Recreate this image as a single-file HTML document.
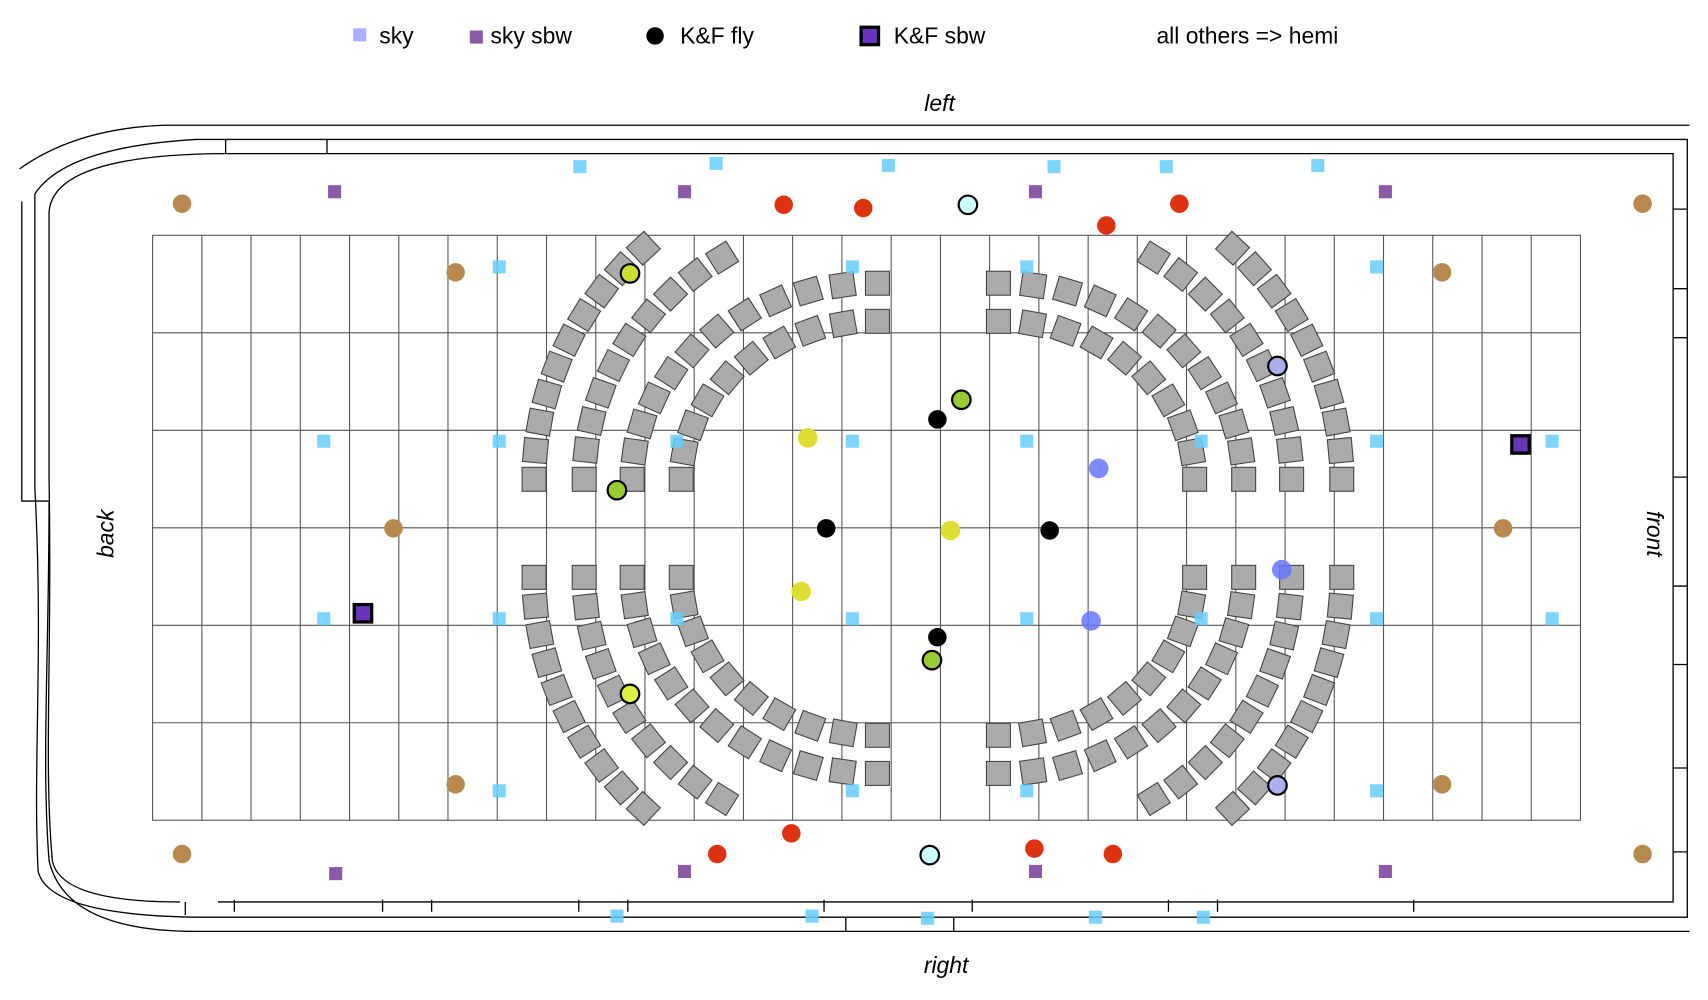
<!DOCTYPE html>
<html><head><meta charset="utf-8"><style>
html,body{margin:0;padding:0;background:#fff;}
svg{display:block;}
text{font-family:"Liberation Sans",sans-serif;}
</style></head><body>
<svg width="1708" height="1000" viewBox="0 0 1567 918" preserveAspectRatio="none" xmlns="http://www.w3.org/2000/svg" xmlns:xlink="http://www.w3.org/1999/xlink">
<defs>
<rect id="s" x="-11" y="-11" width="22" height="22"/>
<g id="q" fill="#aaa" stroke="#444" stroke-width="1">
<use xlink:href="#s" transform="translate(625,440)"/>
<use xlink:href="#s" transform="translate(627.7,414.8) rotate(10)"/>
<use xlink:href="#s" transform="translate(635.8,390.4) rotate(20)"/>
<use xlink:href="#s" transform="translate(649.1,367.5) rotate(30)"/>
<use xlink:href="#s" transform="translate(667.1,346.8) rotate(40)"/>
<use xlink:href="#s" transform="translate(689.3,328.9) rotate(50)"/>
<use xlink:href="#s" transform="translate(715,314.4) rotate(60)"/>
<use xlink:href="#s" transform="translate(743.4,303.7) rotate(70)"/>
<use xlink:href="#s" transform="translate(773.7,297.2) rotate(80)"/>
<use xlink:href="#s" transform="translate(805,295)"/>
<use xlink:href="#s" transform="translate(580,440)"/>
<use xlink:href="#s" transform="translate(582.3,414.4) rotate(8.2)"/>
<use xlink:href="#s" transform="translate(589,389.2) rotate(16.4)"/>
<use xlink:href="#s" transform="translate(600.3,365.3) rotate(24.5)"/>
<use xlink:href="#s" transform="translate(615.8,342.6) rotate(32.7)"/>
<use xlink:href="#s" transform="translate(634.9,322.1) rotate(40.9)"/>
<use xlink:href="#s" transform="translate(657.6,303.9) rotate(49.1)"/>
<use xlink:href="#s" transform="translate(683.3,288.6) rotate(57.3)"/>
<use xlink:href="#s" transform="translate(711.6,276.2) rotate(65.5)"/>
<use xlink:href="#s" transform="translate(741.6,267.2) rotate(73.6)"/>
<use xlink:href="#s" transform="translate(773.1,261.8) rotate(81.8)"/>
<use xlink:href="#s" transform="translate(805,260)"/>
<use xlink:href="#s" transform="translate(536,440)"/>
<use xlink:href="#s" transform="translate(537.7,413.1) rotate(6.4)"/>
<use xlink:href="#s" transform="translate(542.8,386.5) rotate(12.9)"/>
<use xlink:href="#s" transform="translate(551.2,360.6) rotate(19.3)"/>
<use xlink:href="#s" transform="translate(562.8,335.6) rotate(25.8)"/>
<use xlink:href="#s" transform="translate(577.4,312) rotate(32.2)"/>
<use xlink:href="#s" transform="translate(595,290) rotate(38.7)"/>
<use xlink:href="#s" transform="translate(615.2,270) rotate(45.1)"/>
<use xlink:href="#s" transform="translate(637.8,252) rotate(51.6)"/>
<use xlink:href="#s" transform="translate(662.5,236.5) rotate(58)"/>
<use xlink:href="#s" transform="translate(490,440)"/>
<use xlink:href="#s" transform="translate(491.3,413.6) rotate(5.2)"/>
<use xlink:href="#s" transform="translate(495.2,387.5) rotate(10.4)"/>
<use xlink:href="#s" transform="translate(501.7,361.7) rotate(15.7)"/>
<use xlink:href="#s" transform="translate(510.7,336.6) rotate(20.9)"/>
<use xlink:href="#s" transform="translate(522.1,312.3) rotate(26.1)"/>
<use xlink:href="#s" transform="translate(535.9,289.2) rotate(31.3)"/>
<use xlink:href="#s" transform="translate(552,267.3) rotate(36.6)"/>
<use xlink:href="#s" transform="translate(570.1,246.7) rotate(41.8)"/>
<use xlink:href="#s" transform="translate(590.2,227.9) rotate(47)"/>
</g>
</defs>
<!-- legend -->
<rect x="324" y="26" width="12" height="12" fill="#aab0ff"/>
<text x="348" y="40" font-size="21">sky</text>
<rect x="431" y="28" width="12" height="12" fill="#8a5aa8"/>
<text x="450" y="40" font-size="21">sky sbw</text>
<circle cx="601" cy="33" r="8" fill="#000"/>
<text x="624" y="40" font-size="21">K&amp;F fly</text>
<rect x="790" y="25" width="16" height="16" fill="#6a33bb" stroke="#000" stroke-width="3"/>
<text x="820" y="40" font-size="21">K&amp;F sbw</text>
<text x="1061" y="40" font-size="21">all others =&gt; hemi</text>
<text x="862" y="102" font-size="21" font-style="italic" text-anchor="middle">left</text>
<text x="868" y="893" font-size="21" font-style="italic" text-anchor="middle">right</text>
<text transform="translate(104,490) rotate(-90)" font-size="21" font-style="italic" text-anchor="middle">back</text>
<text transform="translate(1511,490) rotate(90)" font-size="21" font-style="italic" text-anchor="middle">front</text>
<!-- walls -->
<g fill="none" stroke="#000" stroke-width="1.2">
<path d="M150 115 L1550 115 M18 155 Q70 118 150 115"/>
<path d="M20 185 L20 460 L45 460 C45 600 38 700 45 790 Q60 855 180 855 L1550 855"/>
<path d="M180 128 L1548 128 L1548 842 L180 842 Q45 840 35 800 C30 700 40 600 32 448 L32 178 Q60 135 180 128"/>
<path d="M200 141 L1535 141 L1535 828 L200 828"/>
<path d="M200 141 Q48 143 45 195 L45 440 C48 600 40 700 48 790 Q55 828 165 828"/>
<path d="M207 128 V141 M300 128 V141 M170 828 V840"/>
<path d="M215 826 V837 M351 826 V837 M396 826 V837 M531 826 V837 M576 826 V837 M756 826 V837 M892 826 V837 M1072 826 V837 M1117 826 V837 M1297 826 V837 M776 842 V855 M875 842 V855"/>
<path d="M1535 192 H1548 M1535 265 H1548 M1535 310 H1548 M1535 438 H1548 M1535 538 H1548 M1535 610 H1548 M1535 705 H1548 M1535 782 H1548"/>
</g>
<!-- grid -->
<g stroke="#555" stroke-width="1" fill="none">
<rect x="140" y="216" width="1310" height="537"/>
<path d="M185.2 216V753M230.3 216V753M275.5 216V753M320.7 216V753M365.9 216V753M411 216V753M456.2 216V753M501.4 216V753M546.6 216V753M591.7 216V753M636.9 216V753M682.1 216V753M727.2 216V753M772.4 216V753M817.6 216V753M862.8 216V753M907.9 216V753M953.1 216V753M998.3 216V753M1043.4 216V753M1088.6 216V753M1133.8 216V753M1179 216V753M1224.1 216V753M1269.3 216V753M1314.5 216V753M1359.7 216V753M1404.8 216V753"/>
<path d="M140 305.5H1450M140 395H1450M140 484.5H1450M140 574H1450M140 663.5H1450"/>
</g>
<!-- seats -->
<use xlink:href="#q"/>
<use xlink:href="#q" transform="matrix(1,0,0,-1,0,970)"/>
<use xlink:href="#q" transform="matrix(-1,0,0,1,1721,0)"/>
<use xlink:href="#q" transform="matrix(-1,0,0,-1,1721,970)"/>
<!-- sky squares -->
<g fill="#66ccff" opacity="0.85">
<rect x="526" y="147" width="12" height="12"/><rect x="651" y="144" width="12" height="12"/><rect x="809" y="146" width="12" height="12"/><rect x="961" y="147" width="12" height="12"/><rect x="1064" y="147" width="12" height="12"/><rect x="1203" y="146" width="12" height="12"/>
<rect x="452" y="239" width="12" height="12"/><rect x="776" y="239" width="12" height="12"/><rect x="936" y="239" width="12" height="12"/><rect x="1257" y="239" width="12" height="12"/>
<rect x="452" y="720" width="12" height="12"/><rect x="776" y="720" width="12" height="12"/><rect x="936" y="720" width="12" height="12"/><rect x="1257" y="720" width="12" height="12"/>
<rect x="560" y="835" width="12" height="12"/><rect x="739" y="835" width="12" height="12"/><rect x="845" y="837" width="12" height="12"/><rect x="999" y="836" width="12" height="12"/><rect x="1098" y="836" width="12" height="12"/>
<rect x="291" y="399" width="12" height="12"/><rect x="452" y="399" width="12" height="12"/><rect x="615" y="399" width="12" height="12"/><rect x="776" y="399" width="12" height="12"/><rect x="936" y="399" width="12" height="12"/><rect x="1096" y="399" width="12" height="12"/><rect x="1257" y="399" width="12" height="12"/><rect x="1418" y="399" width="12" height="12"/>
<rect x="291" y="562" width="12" height="12"/><rect x="452" y="562" width="12" height="12"/><rect x="615" y="562" width="12" height="12"/><rect x="776" y="562" width="12" height="12"/><rect x="936" y="562" width="12" height="12"/><rect x="1096" y="562" width="12" height="12"/><rect x="1257" y="562" width="12" height="12"/><rect x="1418" y="562" width="12" height="12"/>
</g>
<g fill="#8a5aa8">
<rect x="301" y="170" width="12" height="12"/><rect x="622" y="170" width="12" height="12"/><rect x="944" y="170" width="12" height="12"/><rect x="1265" y="170" width="12" height="12"/>
<rect x="302" y="796" width="12" height="12"/><rect x="622" y="794" width="12" height="12"/><rect x="944" y="794" width="12" height="12"/><rect x="1265" y="794" width="12" height="12"/>
</g>
<g fill="#b8894f">
<circle cx="167" cy="187" r="8.5"/><circle cx="1507" cy="187" r="8.5"/><circle cx="418" cy="250" r="8.5"/><circle cx="1323" cy="250" r="8.5"/><circle cx="361" cy="485" r="8.5"/><circle cx="1379" cy="485" r="8.5"/><circle cx="418" cy="720" r="8.5"/><circle cx="1323" cy="720" r="8.5"/><circle cx="167" cy="784" r="8.5"/><circle cx="1507" cy="784" r="8.5"/>
</g>
<g fill="#dd3311">
<circle cx="719" cy="188" r="8.5"/><circle cx="792" cy="191" r="8.5"/><circle cx="1082" cy="187" r="8.5"/><circle cx="1015" cy="207" r="8.5"/><circle cx="658" cy="784" r="8.5"/><circle cx="726" cy="765" r="8.5"/><circle cx="949" cy="779" r="8.5"/><circle cx="1021" cy="784" r="8.5"/>
</g>
<g fill="#000">
<circle cx="860" cy="385" r="8.5"/><circle cx="758" cy="485" r="8.5"/><circle cx="963" cy="487" r="8.5"/><circle cx="860" cy="585" r="8.5"/>
</g>
<g fill="#dddd33">
<circle cx="741" cy="402" r="9"/><circle cx="872" cy="487" r="9"/><circle cx="735" cy="543" r="9"/>
</g>
<g fill="#6677ff" opacity="0.85">
<circle cx="1008" cy="430" r="9"/><circle cx="1176" cy="523" r="9"/><circle cx="1001" cy="570" r="9"/>
</g>
<g stroke="#000" stroke-width="2">
<circle cx="888" cy="188" r="8.5" fill="#ccffff"/><circle cx="853" cy="785" r="8.5" fill="#ccffff"/>
<circle cx="882" cy="367" r="8.5" fill="#99cc33"/><circle cx="566" cy="450" r="8.5" fill="#99cc33"/><circle cx="855" cy="606" r="8.5" fill="#99cc33"/>
<circle cx="578" cy="251" r="8.5" fill="#ccdd33"/><circle cx="578" cy="637" r="8.5" fill="#ddee44"/>
<circle cx="1172" cy="336" r="8.5" fill="#aab0ee"/><circle cx="1172" cy="721" r="8.5" fill="#aab0ee"/>
</g>
<g fill="#6a33bb" stroke="#000" stroke-width="3">
<rect x="325" y="555" width="16" height="16"/><rect x="1387" y="400" width="16" height="16"/>
</g>
</svg>
</body></html>
